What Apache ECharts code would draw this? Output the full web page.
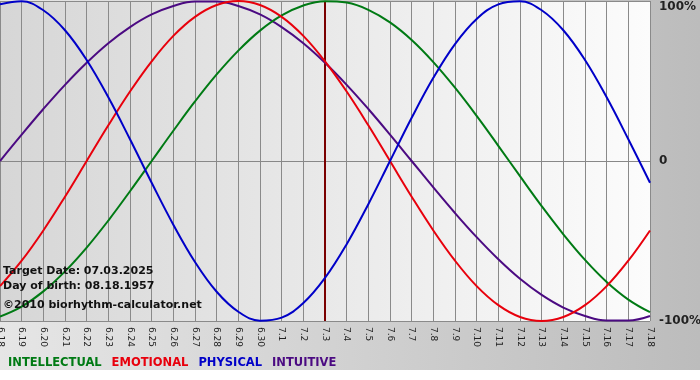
<!DOCTYPE html>
<html>
<head>
<meta charset="utf-8">
<script src="https://cdn.jsdelivr.net/npm/echarts@6/dist/echarts.min.js"></script>
<style>
  html, body { margin: 0; padding: 0; background: #fff; }
  #chart { width: 700px; height: 380px; }
</style>
</head>
<body>
<div id="chart"></div>
<script>
// day labels, 6.18 .. 7.18
var days = ['6.18','6.19','6.20','6.21','6.22','6.23','6.24','6.25','6.26','6.27','6.28','6.29','6.30',
  '7.1','7.2','7.3','7.4','7.5','7.6','7.7','7.8','7.9','7.10','7.11','7.12','7.13','7.14','7.15','7.16','7.17','7.18'];
var targetDay = '7.3';

// values, -1 .. 1
var intellectual = [-0.972,-0.910,-0.815,-0.690,-0.541,-0.372,-0.189,0,0.189,0.372,0.541,0.690,0.815,0.910,0.972,0.999,
  0.990,0.945,0.866,0.756,0.618,0.458,0.282,0.095,-0.095,-0.282,-0.458,-0.618,-0.756,-0.866,-0.945];
var emotional = [-0.782,-0.623,-0.434,-0.223,0,0.223,0.434,0.623,0.782,0.901,0.975,1.000,0.975,0.901,0.782,0.623,
  0.434,0.223,0,-0.223,-0.434,-0.623,-0.782,-0.901,-0.975,-1.000,-0.975,-0.901,-0.782,-0.623,-0.434];
var physical = [0.979,0.998,0.942,0.817,0.631,0.398,0.136,-0.136,-0.398,-0.631,-0.817,-0.942,-0.998,-0.979,-0.888,-0.731,
  -0.520,-0.270,0,0.270,0.520,0.731,0.888,0.979,0.998,0.942,0.817,0.631,0.398,0.136,-0.136];
var intuitive = [0,0.165,0.325,0.476,0.614,0.736,0.837,0.916,0.969,0.997,0.997,0.969,0.916,0.837,0.736,0.614,
  0.476,0.325,0.165,0,-0.165,-0.325,-0.476,-0.614,-0.736,-0.837,-0.916,-0.969,-0.997,-0.997,-0.969];

var names = ['INTELLECTUAL','EMOTIONAL','PHYSICAL','INTUITIVE'];
var colors = ['#007a14','#e8000c','#0000c8','#4b0a82'];
var infoLines = ['Target Date: 07.03.2025','Day of birth: 08.18.1957'];
var copyright = '\u00a92010 biorhythm-calculator.net';

var myChart = echarts.init(document.getElementById('chart'));

function curve(i, data) {
  return {
    name: names[i],
    type: 'line',
    data: data,
    smooth: 0.4,
    symbol: 'none',
    lineStyle: { color: colors[i], width: 2 },
    itemStyle: { color: colors[i] },
    z: 3
  };
}

var series = [curve(3, intuitive), curve(0, intellectual), curve(1, emotional), curve(2, physical)];
series[0].markLine = {
  silent: true,
  symbol: 'none',
  label: { show: false },
  lineStyle: { color: '#7a0000', width: 2, type: 'solid' },
  data: [{ xAxis: targetDay }],
  z: 1
};

var option = {
  backgroundColor: '#fff',
  animation: false,
  graphic: [
    {
      type: 'rect', z: -10, silent: true,
      shape: { x: 0, y: 0, width: 700, height: 370 },
      style: { fill: new echarts.graphic.LinearGradient(0, 0, 1, 0, [
        { offset: 0, color: '#e6e6e6' }, { offset: 1, color: '#bcbcbc' }]) }
    },
    {
      type: 'text', left: 3, top: 264, z: 10,
      style: { text: infoLines.join('\n'), font: 'bold 11px "DejaVu Sans"', lineHeight: 15, fill: '#111' }
    },
    {
      type: 'text', left: 3, top: 300, z: 10,
      style: { text: copyright, font: 'bold 11px "DejaVu Sans"', fill: '#111' }
    }
  ],
  legend: {
    left: -2,
    top: 352,
    icon: 'none',
    itemWidth: 0,
    itemHeight: 0,
    itemGap: 5,
    selectedMode: false,
    data: names.map(function (n, i) {
      return { name: n, textStyle: { color: colors[i] } };
    }),
    textStyle: { fontFamily: 'DejaVu Sans', fontWeight: 'bold', fontSize: 11.5 }
  },
  grid: {
    left: 0, right: 50, top: 1, bottom: 59,
    outerBoundsMode: 'none',
    containLabel: false,
    show: true,
    borderWidth: 0,
    backgroundColor: new echarts.graphic.LinearGradient(0, 0, 1, 0, [
      { offset: 0, color: '#d6d6d6' }, { offset: 1, color: '#fcfcfc' }])
  },
  xAxis: {
    type: 'category',
    data: days,
    boundaryGap: false,
    axisLine: { lineStyle: { color: '#888', width: 1 } },
    axisTick: { show: true, interval: 0, length: 4, lineStyle: { color: '#888' } },
    splitLine: { show: true, interval: 0, lineStyle: { color: '#8a8a8a', width: 1 } },
    axisLabel: {
      interval: 0,
      rotate: -90,
      margin: 6,
      fontFamily: 'DejaVu Sans',
      fontSize: 9,
      color: '#222'
    }
  },
  yAxis: {
    type: 'value',
    position: 'right',
    min: -1,
    max: 1,
    interval: 1,
    axisLine: { show: false },
    axisTick: { show: false },
    splitLine: { show: true, lineStyle: { color: '#8a8a8a', width: 1 } },
    axisLabel: {
      margin: 9,
      fontFamily: 'DejaVu Sans',
      fontWeight: 'bold',
      fontSize: 12,
      color: '#222',
      formatter: function (v) {
        if (v === 1) return '{top|100%}';
        if (v === -1) return '-100%';
        return '0';
      },
      rich: { top: { fontFamily: 'DejaVu Sans', fontWeight: 'bold', fontSize: 12, color: '#222', padding: [12, 0, 0, 0] } }
    }
  },
  series: series
};

myChart.setOption(option);
</script>
</body>
</html>
